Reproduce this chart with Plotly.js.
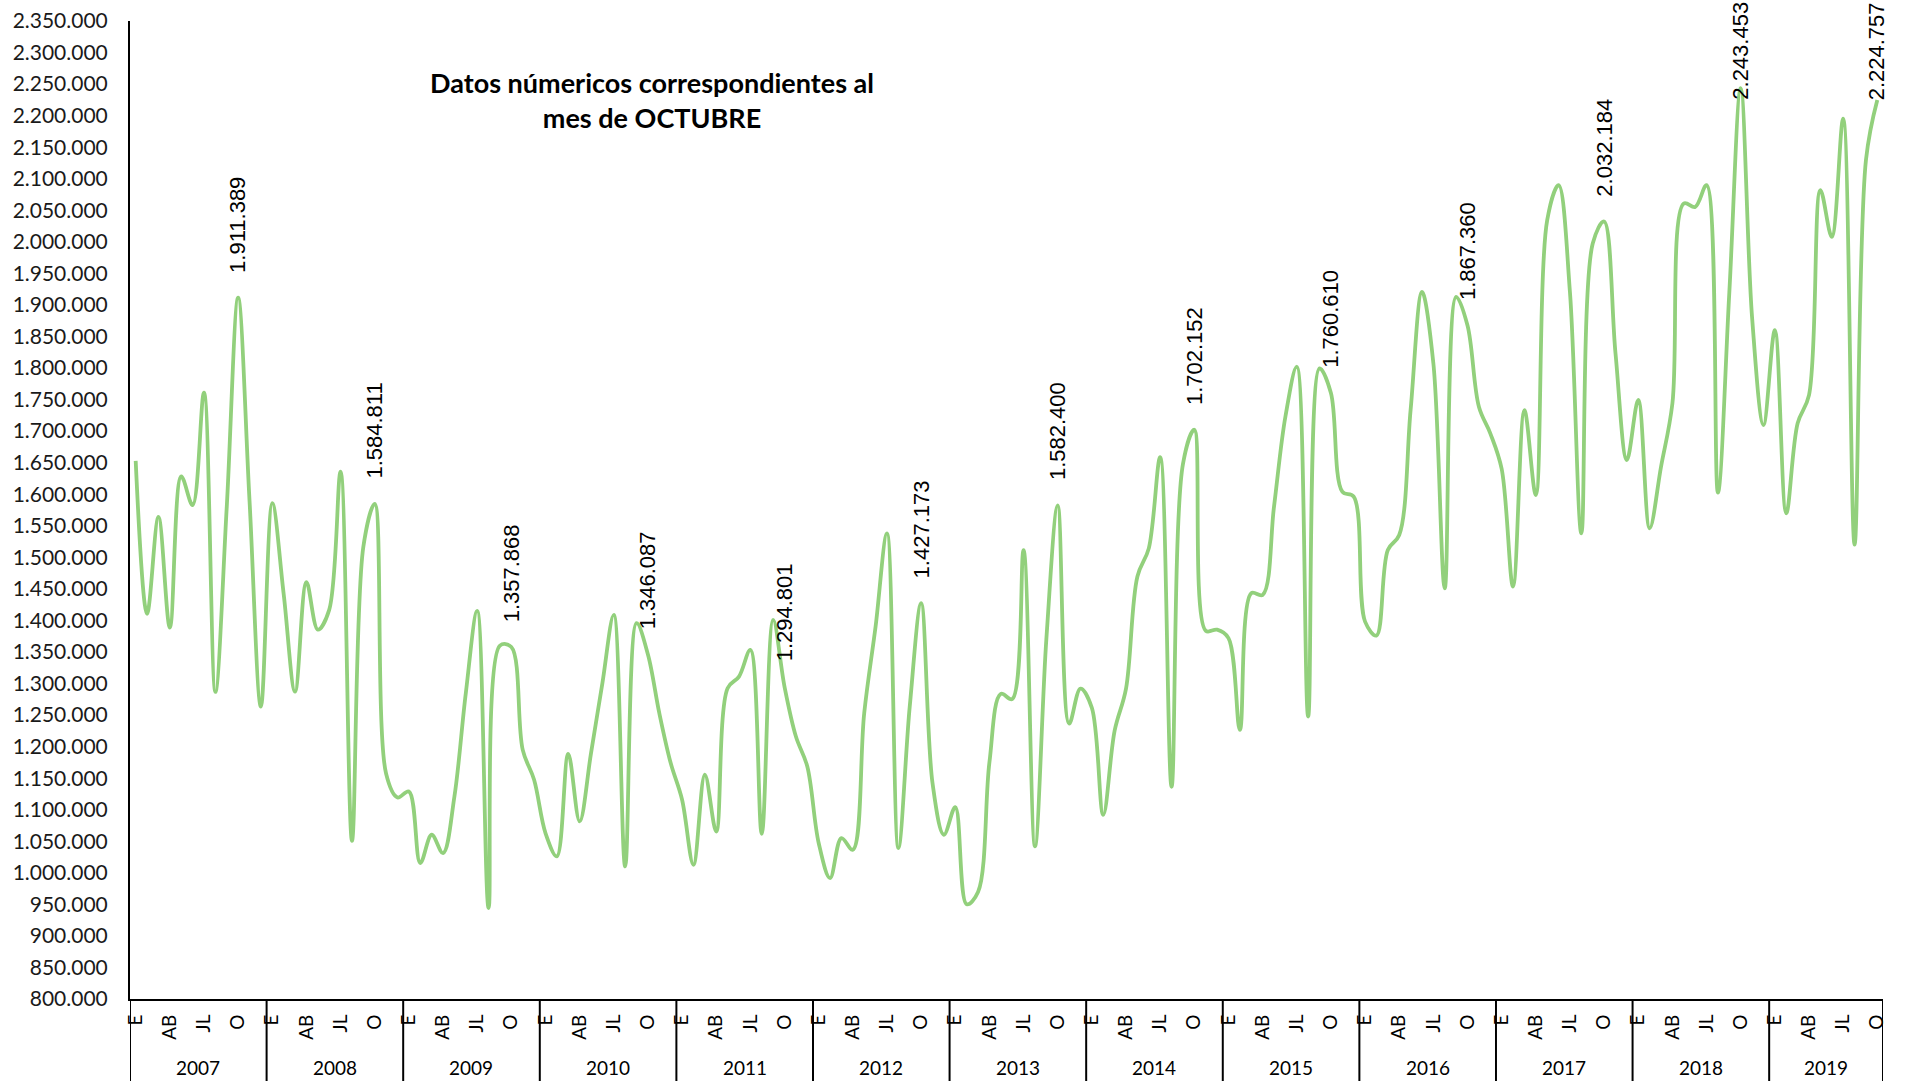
<!DOCTYPE html>
<html>
<head>
<meta charset="utf-8">
<script src="https://cdn.plot.ly/plotly-3.0.1.min.js"></script>
<style>
html,body{margin:0;padding:0;background:#ffffff;}
#chart{width:1911px;height:1081px;}
</style>
</head>
<body>
<div id="chart"></div>
<script>
// ---- Data ----
const years = [2007, 2008, 2009, 2010, 2011, 2012, 2013, 2014, 2015, 2016, 2017, 2018, 2019];
const monthCodes = ['E', 'F', 'M', 'AB', 'MY', 'JN', 'JL', 'AG', 'S', 'O', 'N', 'D'];
const shownMonths = ['E', 'AB', 'JL', 'O'];
const labelMonth = 'O';

const v2007 = [1652800, 1410500, 1564000, 1388600, 1628400, 1582700, 1761100, 1286700, 1580000, 1911389, 1590000, 1263300];
const v2008 = [1585800, 1442000, 1287000, 1460500, 1385500, 1416800, 1635900, 1050700, 1516900, 1584811, 1156900, 1119400];
const v2009 = [1128900, 1015500, 1060300, 1031300, 1121000, 1284700, 1415100, 944200, 1360100, 1357868, 1194900, 1147400];
const v2010 = [1063000, 1026000, 1188600, 1081400, 1189700, 1300600, 1408700, 1010100, 1395600, 1346087, 1253000, 1173900];
const v2011 = [1115800, 1012800, 1155400, 1065500, 1292600, 1311000, 1353300, 1061900, 1400800, 1294801, 1216000, 1168500];
const v2012 = [1047200, 991700, 1055100, 1036600, 1253000, 1390200, 1538100, 1039200, 1263500, 1427173, 1142200, 1060300];
const v2013 = [1104000, 950100, 969600, 1175100, 1283600, 1275200, 1511400, 1041800, 1370000, 1582400, 1236300, 1291900];
const v2014 = [1261500, 1092000, 1225200, 1291900, 1469700, 1514200, 1658700, 1136300, 1647600, 1702152, 1383600, 1385300];
const v2015 = [1372000, 1226600, 1443100, 1440400, 1580300, 1722800, 1802000, 1247700, 1799500, 1760610, 1604000, 1596100];
const v2016 = [1398100, 1376000, 1511700, 1535400, 1733400, 1920800, 1807400, 1451000, 1912900, 1867360, 1738700, 1696500];
const v2017 = [1640000, 1453600, 1733400, 1598800, 2034300, 2089800, 1920000, 1538100, 1997400, 2032184, 1823200, 1654200];
const v2018 = [1749300, 1546100, 1643600, 1744000, 2060800, 2055400, 2089800, 1602500, 1920000, 2243453, 1880000, 1709700];
const v2019 = [1860100, 1569800, 1712400, 1757200, 2081900, 2007900, 2195400, 1520000, 2129400, 2224757];

const seriesByYear = [v2007, v2008, v2009, v2010, v2011, v2012, v2013, v2014, v2015, v2016, v2017, v2018, v2019];

// ---- Build flat series ----
const xs = [], ys = [], yearOf = [], monthOf = [];
seriesByYear.forEach((arr, k) => {
  arr.forEach((v, m) => {
    xs.push(xs.length);
    ys.push(v);
    yearOf.push(years[k]);
    monthOf.push(monthCodes[m]);
  });
});

function fmt(n) {
  return Math.round(n).toString().replace(/\B(?=(\d{3})+(?!\d))/g, '.');
}

// month tick labels
const tickvals = [], ticktext = [];
xs.forEach(i => {
  if (shownMonths.indexOf(monthOf[i]) >= 0) { tickvals.push(i); ticktext.push(monthOf[i]); }
});

// layout geometry
const W = 1911, H = 1081;
const margin = {l: 130, r: 28, t: 21, b: 82};
const plotH = H - margin.t - margin.b;
const below = -margin.b / plotH;
const yMin = 800000, yMax = 2350000;
const labelGap = 23, labelLen = 96;

const annotations = [];
const shapes = [];

// October data labels (kept inside the chart area like the original)
xs.forEach(i => {
  if (monthOf[i] === labelMonth) {
    const py = margin.t + (yMax - ys[i]) / (yMax - yMin) * plotH;
    const ann = {
      x: i, xref: 'x',
      text: fmt(ys[i]), textangle: -90, showarrow: false,
      xanchor: 'center',
      font: {family: 'Liberation Sans, Arial, sans-serif', size: 22, color: '#000000'}
    };
    if (py - labelGap - labelLen < 0) {
      ann.yref = 'paper'; ann.y = 1 + margin.t / plotH; ann.yanchor = 'top';
    } else {
      ann.yref = 'y'; ann.y = ys[i]; ann.yanchor = 'bottom'; ann.yshift = labelGap;
    }
    annotations.push(ann);
  }
});

// year group labels and separators
let start = 0;
seriesByYear.forEach((arr, k) => {
  const x0 = start - 0.5, x1 = start + arr.length - 0.5;
  annotations.push({
    x: (x0 + x1) / 2, y: -(margin.b - 14) / plotH, xref: 'x', yref: 'paper',
    text: String(years[k]), showarrow: false, xanchor: 'center', yanchor: 'middle',
    font: {family: 'Lato, sans-serif', size: 19, color: '#000000'}
  });
  shapes.push({type: 'line', xref: 'x', yref: 'paper', x0: x0, x1: x0, y0: 0, y1: below,
    line: {color: '#000000', width: 2}});
  if (k === seriesByYear.length - 1) {
    shapes.push({type: 'line', xref: 'x', yref: 'paper', x0: x1, x1: x1, y0: 0, y1: below,
      line: {color: '#000000', width: 2}});
  }
  start += arr.length;
});

const trace = {
  x: xs, y: ys, type: 'scatter', mode: 'lines',
  line: {color: 'rgb(146,208,124)', width: 3.8, shape: 'spline', smoothing: 1},
  hoverinfo: 'skip'
};

const layout = {
  width: W, height: H,
  margin: margin,
  paper_bgcolor: '#ffffff', plot_bgcolor: '#ffffff',
  separators: ',.',
  showlegend: false,
  title: {
    text: '<b>Datos númericos correspondientes al<br>mes de OCTUBRE</b>',
    font: {family: 'Lato, sans-serif', size: 27, color: '#000000'},
    x: 652 / W, xref: 'container', xanchor: 'center',
    y: 1 - 93 / H, yref: 'container', yanchor: 'middle'
  },
  xaxis: {
    range: [-0.5, xs.length - 0.5],
    tickmode: 'array', tickvals: tickvals, ticktext: ticktext,
    tickangle: -90, ticks: '', showgrid: false, zeroline: false,
    showline: true, linecolor: '#000000', linewidth: 2,
    ticklabelstandoff: 6,
    tickfont: {family: 'Lato, sans-serif', size: 19, color: '#000000'}
  },
  yaxis: {
    range: [yMin, yMax],
    tick0: yMin, dtick: 50000, tickformat: ',.0f',
    ticks: '', showgrid: false, zeroline: false,
    showline: true, linecolor: '#000000', linewidth: 2,
    ticklabelstandoff: 16,
    tickfont: {family: 'Lato, sans-serif', size: 21, color: '#1a1a1a'}
  },
  annotations: annotations,
  shapes: shapes
};

Plotly.newPlot('chart', [trace], layout, {displayModeBar: false, staticPlot: true});
</script>
</body>
</html>
